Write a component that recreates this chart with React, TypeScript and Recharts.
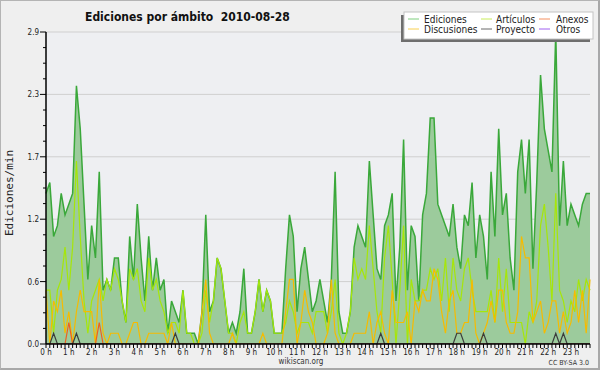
import React from 'react';
import { ComposedChart, Area, Line, XAxis, YAxis, CartesianGrid } from 'recharts';

const HOUR_LABELS = ['0 h','1 h','2 h','3 h','4 h','5 h','6 h','7 h','8 h','9 h','10 h','11 h','12 h','13 h','14 h','15 h','16 h','17 h','18 h','19 h','20 h','21 h','22 h','23 h'];
const Y_MAJOR = [0, 0.58, 1.16, 1.74, 2.32, 2.9];
const Y_LABELS = ['0.0', '0.6', '1.2', '1.7', '2.3', '2.9'];

const EDICIONES = [
  1.4, 1.5, 1.0, 1.1, 1.4, 1.2, 1.3, 1.4, 2.4, 2.0, 1.3, 0.6, 1.1, 0.8, 1.6, 0.5, 0.6, 0.5, 0.8, 0.8, 0.4, 0.2, 1.0, 0.6,
  1.3, 0.8, 0.4, 1.0, 0.5, 0.8, 0.5, 0.6, 0.1, 0.4, 0.3, 0.2, 0.5, 0.1, 0.1, 0.1, 0.0, 0.3, 1.2, 0.3, 0.4, 0.8, 0.7, 0.4,
  0.1, 0.2, 0.1, 0.3, 0.7, 0.1, 0.1, 0.3, 0.6, 0.3, 0.5, 0.4, 0.1, 0.1, 0.1, 0.7, 1.2, 1.0, 0.3, 0.7, 0.9, 0.6, 0.3, 0.4,
  0.6, 0.4, 0.2, 0.6, 1.6, 0.3, 0.1, 0.1, 0.3, 0.9, 1.1, 1.0, 0.9, 1.7, 1.2, 0.7, 0.6, 1.1, 1.2, 1.4, 0.4, 0.9, 1.9, 0.5,
  1.1, 1.0, 0.4, 1.2, 1.4, 2.1, 2.1, 1.3, 1.2, 1.1, 1.0, 1.3, 0.9, 0.7, 1.2, 1.1, 1.5, 0.8, 1.2, 1.0, 0.6, 1.6, 1.0, 2.0,
  1.2, 1.4, 0.8, 0.5, 1.6, 1.9, 1.4, 1.9, 0.7, 1.5, 2.5, 2.0, 1.8, 1.6, 2.9, 1.1, 1.7, 1.1, 1.3, 1.2, 1.1, 1.3, 1.4, 1.4,
];
const ARTICULOS = [
  0.5, 0.5, 0.1, 0.5, 0.6, 0.9, 0.5, 0.9, 1.7, 1.0, 0.4, 0.1, 0.4, 0.5, 0.6, 0.4, 0.6, 0.5, 0.7, 0.6, 0.4, 0.2, 0.7, 0.6,
  0.7, 0.4, 0.3, 0.8, 0.5, 0.6, 0.4, 0.3, 0.1, 0.2, 0.2, 0.1, 0.5, 0.1, 0.1, 0.0, 0.0, 0.1, 0.5, 0.2, 0.4, 0.8, 0.7, 0.4,
  0.1, 0.1, 0.0, 0.2, 0.3, 0.1, 0.1, 0.3, 0.6, 0.3, 0.5, 0.4, 0.1, 0.1, 0.1, 0.2, 0.4, 0.3, 0.1, 0.2, 0.2, 0.2, 0.1, 0.3,
  0.3, 0.3, 0.1, 0.3, 0.6, 0.1, 0.0, 0.1, 0.3, 0.8, 0.6, 0.7, 0.6, 1.1, 0.7, 0.3, 0.1, 0.8, 1.1, 0.6, 0.0, 0.5, 1.1, 0.0,
  0.6, 0.4, 0.4, 0.5, 0.5, 0.7, 0.6, 0.7, 0.4, 0.8, 0.3, 0.8, 0.5, 0.4, 0.7, 0.8, 0.5, 0.3, 0.3, 0.3, 0.3, 0.5, 0.2, 0.8,
  0.3, 0.7, 0.2, 0.2, 0.2, 0.2, 0.0, 0.3, 0.2, 0.4, 1.1, 1.3, 0.9, 0.4, 1.4, 0.5, 0.4, 0.2, 0.4, 0.3, 0.6, 0.4, 0.6, 0.5,
];
const DISCUSIONES = [
  0.5, 0.0, 0.4, 0.3, 0.5, 0.1, 0.3, 0.0, 0.3, 0.5, 0.3, 0.3, 0.3, 0.0, 0.6, 0.1, 0.0, 0.1, 0.1, 0.1, 0.0, 0.0, 0.1, 0.2,
  0.2, 0.0, 0.0, 0.1, 0.1, 0.1, 0.1, 0.1, 0.0, 0.2, 0.0, 0.0, 0.0, 0.0, 0.0, 0.0, 0.0, 0.3, 0.6, 0.1, 0.0, 0.0, 0.0, 0.0,
  0.0, 0.1, 0.0, 0.0, 0.0, 0.0, 0.0, 0.0, 0.0, 0.1, 0.0, 0.0, 0.0, 0.0, 0.0, 0.3, 0.6, 0.6, 0.0, 0.2, 0.5, 0.3, 0.2, 0.0,
  0.0, 0.0, 0.1, 0.6, 0.1, 0.0, 0.0, 0.0, 0.0, 0.1, 0.1, 0.1, 0.1, 0.3, 0.0, 0.2, 0.3, 0.1, 0.0, 0.5, 0.2, 0.2, 0.2, 0.3,
  0.0, 0.4, 0.3, 0.5, 0.4, 0.4, 0.7, 0.6, 0.3, 0.1, 0.4, 0.5, 0.1, 0.1, 0.2, 0.2, 0.6, 0.1, 0.0, 0.1, 0.2, 0.4, 0.2, 0.5,
  0.5, 0.2, 0.1, 0.1, 0.3, 1.0, 0.8, 0.8, 0.2, 0.3, 0.4, 0.1, 0.2, 0.4, 0.4, 0.1, 0.3, 0.1, 0.2, 0.5, 0.2, 0.5, 0.1, 0.6,
];
const ANEXOS = [
  0, 0, 0, 0, 0, 0, 0.2, 0, 0, 0, 0, 0, 0, 0, 0.2, 0, 0, 0, 0, 0, 0, 0, 0, 0,
  0, 0, 0, 0, 0, 0, 0, 0, 0, 0, 0, 0, 0, 0, 0, 0, 0, 0, 0, 0, 0, 0, 0, 0,
  0, 0, 0, 0, 0, 0, 0, 0, 0, 0, 0, 0, 0, 0, 0, 0, 0, 0, 0, 0, 0, 0, 0, 0,
  0, 0, 0, 0, 0, 0, 0, 0, 0, 0, 0, 0, 0, 0, 0, 0, 0, 0, 0, 0, 0, 0, 0, 0,
  0, 0, 0, 0, 0, 0, 0, 0, 0, 0, 0, 0, 0, 0, 0, 0, 0, 0, 0, 0, 0, 0, 0, 0,
  0, 0, 0, 0, 0, 0, 0, 0, 0, 0, 0, 0, 0, 0, 0, 0, 0, 0, 0, 0, 0, 0, 0, 0,
];
const PROYECTO = [
  0, 0, 0.1, 0, 0, 0, 0, 0, 0.1, 0, 0, 0, 0, 0, 0, 0, 0, 0, 0, 0, 0, 0, 0, 0,
  0, 0, 0, 0, 0, 0, 0, 0, 0, 0, 0.1, 0, 0, 0, 0, 0, 0, 0, 0, 0, 0, 0, 0, 0,
  0, 0, 0, 0, 0, 0, 0, 0, 0, 0, 0, 0, 0, 0, 0, 0, 0, 0, 0, 0, 0, 0, 0, 0,
  0, 0, 0, 0, 0, 0, 0, 0, 0, 0, 0, 0, 0, 0, 0, 0, 0.1, 0, 0, 0, 0, 0, 0, 0,
  0, 0, 0, 0, 0, 0, 0, 0, 0, 0, 0, 0, 0.1, 0.1, 0, 0, 0, 0, 0, 0.1, 0, 0, 0, 0,
  0, 0, 0, 0, 0, 0, 0, 0, 0, 0, 0, 0, 0, 0, 0.1, 0, 0.1, 0, 0, 0, 0, 0, 0, 0,
];
const OTROS = [
  0, 0, 0, 0, 0, 0, 0, 0, 0, 0, 0, 0, 0, 0, 0, 0, 0, 0, 0, 0, 0, 0, 0, 0,
  0, 0, 0, 0, 0, 0, 0, 0, 0, 0, 0, 0, 0, 0, 0, 0, 0, 0, 0, 0, 0, 0, 0, 0,
  0, 0, 0, 0, 0, 0, 0, 0, 0, 0, 0, 0, 0, 0, 0, 0, 0, 0, 0, 0, 0, 0, 0, 0,
  0, 0, 0, 0, 0, 0, 0, 0, 0, 0, 0, 0, 0, 0, 0, 0, 0, 0, 0, 0, 0, 0, 0, 0,
  0, 0, 0, 0, 0, 0, 0, 0, 0, 0, 0, 0, 0, 0, 0, 0, 0, 0, 0, 0, 0, 0, 0, 0,
  0, 0, 0, 0, 0, 0, 0, 0, 0, 0, 0, 0, 0, 0, 0, 0, 0, 0, 0, 0, 0, 0, 0, 0,
];

const SERIES = [
  { key: 'ediciones', name: 'Ediciones', color: '#3aa83a', legend: '#7fcf7f' },
  { key: 'articulos', name: 'Artículos', color: '#a6e60a', legend: '#c8ec5a' },
  { key: 'anexos', name: 'Anexos', color: '#ee6020', legend: '#f59060' },
  { key: 'discusiones', name: 'Discusiones', color: '#f6bb00', legend: '#f8d050' },
  { key: 'proyecto', name: 'Proyecto', color: '#3c3c3c', legend: '#6a6a6a' },
  { key: 'otros', name: 'Otros', color: '#9040e0', legend: '#a060f0' },
];

const data = EDICIONES.map((v, i) => ({
  i,
  ediciones: v,
  articulos: ARTICULOS[i],
  discusiones: DISCUSIONES[i],
  anexos: ANEXOS[i],
  proyecto: PROYECTO[i],
  otros: OTROS[i],
}));

const X_TICKS = data.map((d) => d.i);
const Y_TICKS: number[] = [];
for (let k = 0; k < Y_MAJOR.length; k++) {
  Y_TICKS.push(Y_MAJOR[k]);
  if (k < Y_MAJOR.length - 1) {
    const step = (Y_MAJOR[k + 1] - Y_MAJOR[k]) / 4;
    for (let j = 1; j < 4; j++) Y_TICKS.push(Y_MAJOR[k] + j * step);
  }
}

const COND = "'DejaVu Sans Condensed', 'DejaVu Sans', sans-serif";

const YTick = (props: any) => {
  const { x, y, payload } = props;
  const idx = Y_MAJOR.findIndex((m) => Math.abs(m - payload.value) < 1e-6);
  const major = idx >= 0;
  return (
    <g>
      <line x1={x - (major ? 6 : 3)} x2={x} y1={y} y2={y} stroke="#000" strokeWidth={1} />
      {major && (
        <text x={x - 7} y={y + 3} textAnchor="end" fontSize={8} fontFamily={COND} fontStretch="condensed" fill="#222">
          {Y_LABELS[idx]}
        </text>
      )}
    </g>
  );
};

const XTick = (props: any) => {
  const { x, y, payload } = props;
  const v = payload.value as number;
  const isHour = v % 6 === 0;
  return (
    <g>
      <line x1={x} x2={x} y1={y} y2={y + 4} stroke="#000" strokeWidth={1} />
      {isHour && (
        <text x={x} y={y + 11} textAnchor="middle" fontSize={8} fontFamily={COND} fontStretch="condensed" fill="#222">
          {HOUR_LABELS[v / 6]}
        </text>
      )}
    </g>
  );
};

const LEGEND_POS = [
  { lx: 408, tx: 424, y: 19 },
  { lx: 481, tx: 496, y: 19 },
  { lx: 539, tx: 556, y: 19 },
  { lx: 408, tx: 424, y: 29 },
  { lx: 481, tx: 496, y: 29 },
  { lx: 539, tx: 556, y: 29 },
];

export default function App() {
  return (
    <div style={{ position: 'absolute', left: 0, top: 0, width: 600, height: 370, background: '#efefef', overflow: 'hidden' }}>
      <ComposedChart
        width={600}
        height={370}
        data={data}
        margin={{ top: 32, right: 10, left: 0, bottom: 0 }}
      >
        <CartesianGrid
          vertical={false}
          horizontalValues={Y_MAJOR.slice(1)}
          stroke="#cfcfcf"
          fill="#eeeff2"
          fillOpacity={1}
        />
        <XAxis
          dataKey="i"
          type="number"
          domain={[0, 143]}
          ticks={X_TICKS}
          interval={0}
          height={26}
          tickSize={0}
          tickMargin={0}
          tick={<XTick />}
          tickLine={false}
          axisLine={{ stroke: '#000', strokeWidth: 1.5 }}
        />
        <YAxis
          type="number"
          domain={[0, 2.9]}
          ticks={Y_TICKS}
          interval={0}
          width={46}
          tickSize={0}
          tickMargin={0}
          tick={<YTick />}
          tickLine={false}
          axisLine={{ stroke: '#000', strokeWidth: 1.5 }}
          allowDataOverflow
        />
        <Area
          dataKey="ediciones"
          type="linear"
          stroke="#3aa83a"
          strokeWidth={1.5}
          fill="#9ccb9c"
          fillOpacity={1}
          dot={false}
          activeDot={false}
          isAnimationActive={false}
        />
        <Line dataKey="otros" type="linear" stroke="#9040e0" strokeWidth={1.2} dot={false} isAnimationActive={false} />
        <Line dataKey="articulos" type="linear" stroke="#a6e60a" strokeWidth={1.2} dot={false} isAnimationActive={false} />
        <Line dataKey="discusiones" type="linear" stroke="#f6bb00" strokeWidth={1.2} dot={false} isAnimationActive={false} />
        <Line dataKey="anexos" type="linear" stroke="#ee6020" strokeWidth={1.2} dot={false} isAnimationActive={false} />
        <Line dataKey="proyecto" type="linear" stroke="#3c3c3c" strokeWidth={1.2} dot={false} isAnimationActive={false} />
      </ComposedChart>

      <svg width={600} height={370} style={{ position: 'absolute', left: 0, top: 0, pointerEvents: 'none' }}>
        <text x={85} y={20.5} fontSize={12} fontWeight="bold" fontFamily={COND} fontStretch="condensed" fill="#111" style={{ whiteSpace: 'pre' }}>
          {'Ediciones por ámbito  2010-08-28'}
        </text>
        <text
          x={0}
          y={0}
          transform="translate(13,193) rotate(-90)"
          textAnchor="middle"
          fontSize={11}
          fontFamily="'DejaVu Sans Mono', monospace"
          fill="#222"
        >
          Ediciones/min
        </text>
        <text x={301} y={364} textAnchor="middle" fontSize={8} fontFamily={COND} fontStretch="condensed" fill="#333">
          wikiscan.org
        </text>
        <text x={589} y={365} textAnchor="end" fontSize={7} fontFamily={COND} fontStretch="condensed" fill="#333">
          CC BY-SA 3.0
        </text>

        <rect x={401} y={15} width={189} height={27} fill="#6e6e6e" />
        <rect x={404} y={12} width={189} height={27} fill="#ffffff" stroke="#c4c4c4" strokeWidth={1} />
        {SERIES.map((s, k) => {
          const p = LEGEND_POS[k];
          return (
            <g key={s.key}>
              <line x1={p.lx} x2={p.lx + 11} y1={p.y} y2={p.y} stroke={s.legend} strokeWidth={1} />
              <text x={p.tx} y={p.y + 3.5} fontSize={10} fontFamily={COND} fontStretch="condensed" fill="#222">
                {s.name}
              </text>
            </g>
          );
        })}
      </svg>
      <div
        style={{
          position: 'absolute',
          left: 0,
          top: 0,
          width: 600,
          height: 370,
          boxSizing: 'border-box',
          borderTop: '1px solid #b4b4b4',
          borderLeft: '1px solid #b4b4b4',
          borderRight: '2px solid #a8a8a8',
          borderBottom: '2px solid #a8a8a8',
          pointerEvents: 'none',
        }}
      />
    </div>
  );
}
